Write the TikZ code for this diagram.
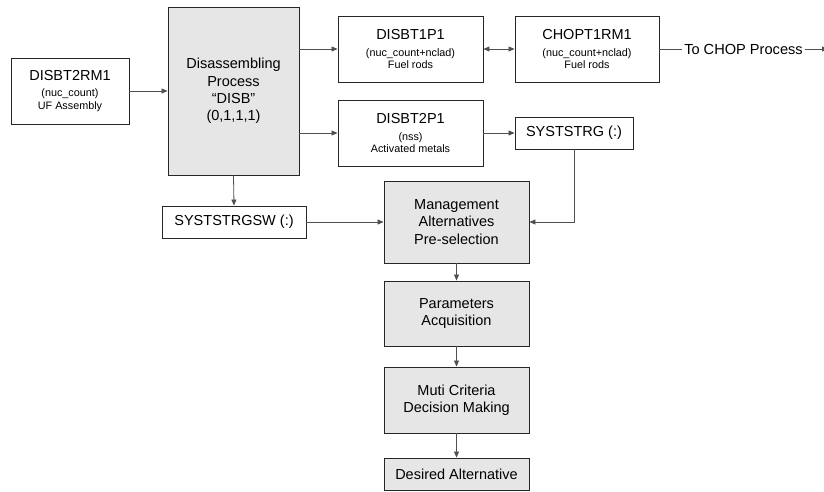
\documentclass[tikz,border=0pt]{standalone}
\usepackage{fontspec}
\setmainfont{Liberation Sans}
\usetikzlibrary{arrows.meta}
\definecolor{boxgray}{HTML}{E6E6E6}
\definecolor{linegray}{HTML}{505050}
\tikzset{
  box/.style={draw=black!85, line width=0.9pt, align=center, inner sep=0pt,
    font=\fontsize{10.8}{12.7}\selectfont},
  pbox/.style={box, fill=boxgray, font=\fontsize{14.5}{17.3}\selectfont},
  big/.style={},
  conn/.style={draw=linegray, line width=0.8pt, -{Triangle[length=6pt,width=5pt]}},
  dconn/.style={draw=linegray, line width=0.8pt, {Triangle[length=6pt,width=5pt]}-{Triangle[length=6pt,width=5pt]}},
  plain/.style={draw=linegray, line width=0.8pt}
}
\newcommand{\bigt}[1]{{\fontsize{14.5}{17.3}\selectfont #1}}
\begin{document}
\begin{tikzpicture}[x=1pt,y=-1pt]
\useasboundingbox (0,0) rectangle (824,491);
\node[box, minimum width=118pt, minimum height=66pt] (rm1) at (70,91)
  {\bigt{DISBT2RM1}\\[4pt](nuc\_count)\\UF Assembly};
\node[pbox, minimum width=131pt, minimum height=168pt] (disb) at (233.5,91)
  {Disassembling\\Process\\“DISB”\\(0,1,1,1)};
\node[box, minimum width=145pt, minimum height=66pt] (t1p1) at (410.5,49)
  {\bigt{DISBT1P1}\\[4pt](nuc\_count+nclad)\\Fuel rods};
\node[box, minimum width=144pt, minimum height=66pt] (chop) at (587,49)
  {\bigt{CHOPT1RM1}\\[4pt](nuc\_count+nclad)\\Fuel rods};
\node[box, minimum width=145pt, minimum height=66pt] (t2p1) at (410.5,133)
  {\bigt{DISBT2P1}\\[4pt](nss)\\Activated metals};
\node[box, minimum width=118pt, minimum height=32pt, font=\fontsize{14.5}{17.3}\selectfont] (strg) at (574,133)
  {SYSTSTRG (:)};
\node[box, minimum width=144pt, minimum height=32pt, font=\fontsize{14.5}{17.3}\selectfont] (strgsw) at (234,222)
  {SYSTSTRGSW (:)};
\node[pbox, minimum width=145pt, minimum height=82pt] (mgmt) at (456.5,222)
  {Management\\Alternatives\\Pre-selection};
\node[pbox, minimum width=145pt, minimum height=65pt] (param) at (456.5,313.5)
  {Parameters\\Acquisition};
\node[pbox, minimum width=145pt, minimum height=66pt] (mcdm) at (456.5,400)
  {Muti Criteria\\Decision Making};
\node[pbox, minimum width=145pt, minimum height=32pt] (des) at (456.5,474)
  {Desired Alternative};
\node[inner sep=0pt, font=\fontsize{14.6}{17.3}\selectfont] (tochop) at (743.5,49) {To CHOP Process};
\coordinate (endr) at (828,49);

\draw[conn] (rm1.east) -- (rm1.east -| disb.west);
\draw[conn] (disb.east |- t1p1.west) -- (t1p1.west);
\draw[conn] (disb.east |- t2p1.west) -- (t2p1.west);
\draw[dconn] (t1p1.east) -- (chop.west);
\draw[plain] (chop.east) -- ([xshift=-2pt]tochop.west);
\draw[conn] ([xshift=2pt]tochop.east) -- (endr);
\draw[conn] (t2p1.east) -- (strg.west);
\draw[conn] (disb.south) -- (strgsw.north);
\draw[conn] (strgsw.east) -- (mgmt.west);
\draw[conn] (strg.south) |- (mgmt.east);
\draw[conn] (mgmt.south) -- (param.north);
\draw[conn] (param.south) -- (mcdm.north);
\draw[conn] (mcdm.south) -- (des.north);
\end{tikzpicture}
\end{document}
